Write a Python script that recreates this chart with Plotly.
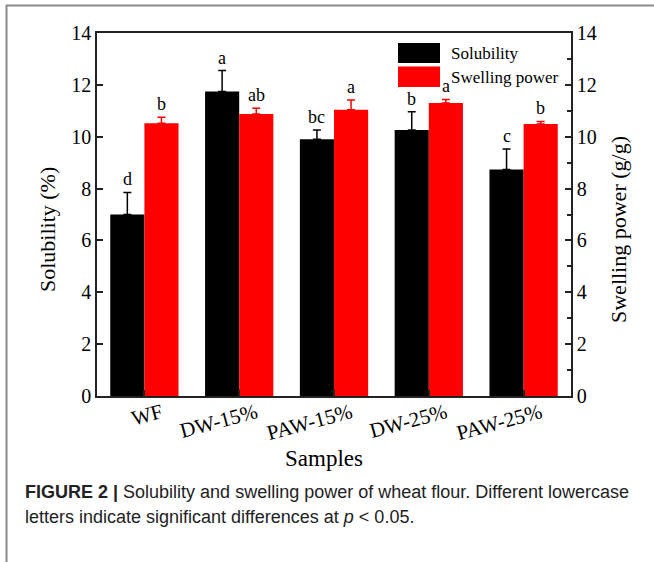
import plotly.graph_objects as go

samples = ["WF", "DW-15%", "PAW-15%", "DW-25%", "PAW-25%"]
solubility = [7.0, 11.74, 9.9, 10.26, 8.74]
solubility_err = [0.85, 0.81, 0.36, 0.70, 0.79]
swelling = [10.52, 10.88, 11.04, 11.30, 10.49]
swelling_err = [0.23, 0.22, 0.38, 0.14, 0.10]
sol_letters = ["d", "a", "bc", "b", "c"]
swell_letters = ["b", "ab", "a", "a", "b"]

SERIF = "Liberation Serif, Times New Roman, serif"
SANS = "Liberation Sans, Arial, sans-serif"
AX = "#222222"

W, H = 654, 562
L, R, T, B = 97, 571, 33, 396
pw, ph = R - L, B - T


def px(x):
    return (x - L) / pw


def py(y):
    return (B - y) / ph


bw = 0.36
fig = go.Figure()
fig.add_trace(go.Bar(
    x=samples, y=solubility, width=bw, offset=-bw, marker_color="#000000",
    marker_line_width=0, name="Solubility", yaxis="y",
    error_y=dict(type="data", symmetric=False, array=solubility_err,
                 arrayminus=[0] * len(samples), color="#000000",
                 thickness=1.5, width=4),
))
fig.add_trace(go.Bar(
    x=samples, y=swelling, width=bw, offset=0, marker_color="#FF0000",
    marker_line_width=0, name="Swelling power", yaxis="y2",
    error_y=dict(type="data", symmetric=False, array=swelling_err,
                 arrayminus=[0] * len(samples), color="#FF0000",
                 thickness=1.5, width=4),
))

annotations = []
for i in range(len(samples)):
    annotations.append(dict(
        x=i - bw / 2, y=solubility[i] + solubility_err[i], xref="x", yref="y",
        text=sol_letters[i], showarrow=False, yanchor="bottom", yshift=1,
        font=dict(family=SERIF, size=18, color="#000000")))
    annotations.append(dict(
        x=i + bw / 2, y=swelling[i] + swelling_err[i], xref="x", yref="y2",
        text=swell_letters[i], showarrow=False, yanchor="bottom", yshift=1,
        font=dict(family=SERIF, size=18, color="#000000")))

# legend text
annotations.append(dict(x=px(449), y=py(53), xref="paper", yref="paper",
                        text="Solubility", showarrow=False, xanchor="left",
                        yanchor="middle", font=dict(family=SERIF, size=17, color="#000")))
annotations.append(dict(x=px(449), y=py(77), xref="paper", yref="paper",
                        text="Swelling power", showarrow=False, xanchor="left",
                        yanchor="middle", font=dict(family=SERIF, size=17, color="#000")))
# axis titles
annotations.append(dict(x=px(47), y=py(230), xref="paper", yref="paper",
                        text="Solubility (%)", showarrow=False, textangle=-90,
                        xanchor="center", yanchor="middle",
                        font=dict(family=SERIF, size=22, color="#000")))
annotations.append(dict(x=px(618), y=py(230), xref="paper", yref="paper",
                        text="Swelling power (g/g)", showarrow=False, textangle=-90,
                        xanchor="center", yanchor="middle",
                        font=dict(family=SERIF, size=22, color="#000")))
annotations.append(dict(x=px(324), y=py(458), xref="paper", yref="paper",
                        text="Samples", showarrow=False,
                        xanchor="center", yanchor="middle",
                        font=dict(family=SERIF, size=23, color="#000")))
# caption
annotations.append(dict(x=px(23), y=py(492), xref="paper", yref="paper",
                        text="<b>FIGURE 2 |</b> Solubility and swelling power of wheat flour. Different lowercase",
                        showarrow=False, xanchor="left", yanchor="middle",
                        font=dict(family=SANS, size=18, color="#222")))
annotations.append(dict(x=px(23), y=py(517), xref="paper", yref="paper",
                        text="letters indicate significant differences at <i>p</i> &lt; 0.05.",
                        showarrow=False, xanchor="left", yanchor="middle",
                        font=dict(family=SANS, size=18, color="#222")))

shapes = [
    # outer frame (cut at right and bottom)
    dict(type="rect", xref="paper", yref="paper",
         x0=px(6.5), x1=px(670), y0=py(5.5), y1=py(600),
         line=dict(color="#8a8a8a", width=2), fillcolor="rgba(0,0,0,0)", layer="below"),
    # legend swatches
    dict(type="rect", xref="paper", yref="paper", x0=px(398), x1=px(440),
         y0=py(63), y1=py(43), fillcolor="#000000", line=dict(width=0)),
    dict(type="rect", xref="paper", yref="paper", x0=px(398), x1=px(440),
         y0=py(87), y1=py(66.5), fillcolor="#FF0000", line=dict(width=0)),
]

fig.update_layout(
    width=W, height=H,
    margin=dict(l=L, r=W - R, t=T, b=H - B, pad=0),
    paper_bgcolor="white", plot_bgcolor="white",
    showlegend=False,
    barmode="overlay",
    annotations=annotations,
    shapes=shapes,
    xaxis=dict(type="category", range=[-0.5, 4.5], showline=True, linecolor=AX,
               linewidth=1.5, mirror=True, ticks="inside", ticklen=6, tickwidth=1.5,
               tickcolor=AX, tickangle=-15, showgrid=False, zeroline=False,
               ticklabelshift=17, ticklabelstandoff=-5,
               tickfont=dict(family=SERIF, size=21, color="#000")),
    yaxis=dict(range=[0, 14], dtick=2, tick0=0, showline=True, linecolor=AX,
               linewidth=1.5, ticks="inside", ticklen=6, tickwidth=1.5, tickcolor=AX,
               showgrid=False, zeroline=False,
               tickfont=dict(family=SERIF, size=20, color="#000")),
    yaxis2=dict(range=[0, 14], dtick=2, tick0=0, overlaying="y", side="right",
                showline=True, linecolor=AX, linewidth=1.5, ticks="inside",
                ticklen=6, tickwidth=1.5, tickcolor=AX, showgrid=False, zeroline=False,
                minor=dict(dtick=1, ticks="inside", ticklen=4, tickwidth=1.5,
                           tickcolor=AX, showgrid=False),
                tickfont=dict(family=SERIF, size=20, color="#000")),
)

fig.write_html("out.html")
